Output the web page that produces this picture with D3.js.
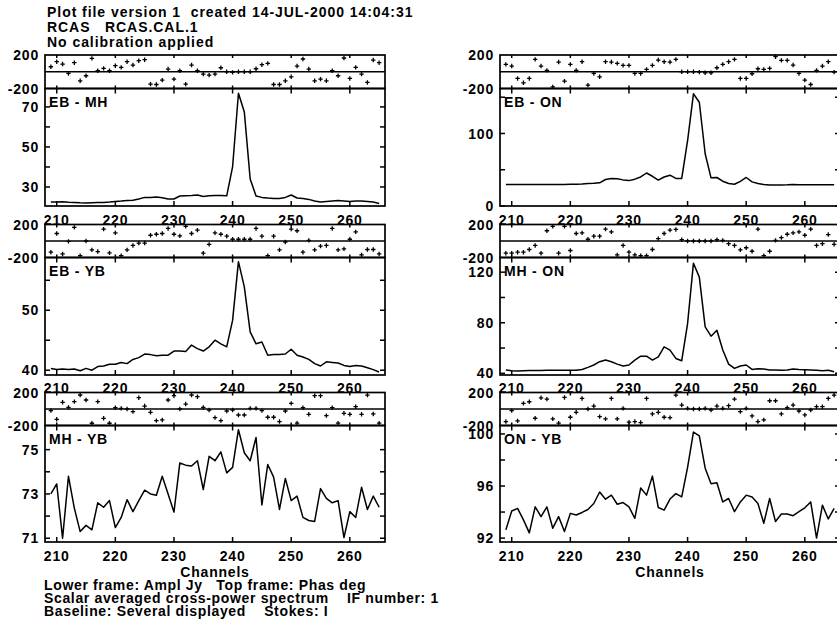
<!DOCTYPE html>
<html>
<head>
<meta charset="utf-8">
<script src="https://cdn.jsdelivr.net/npm/d3@7"></script>
<style>
    body { margin: 0; background: #fff; }
    svg text {
        font-family: "Liberation Sans", Arial, Helvetica, sans-serif;
        font-weight: bold;
        font-size: 14px;
        letter-spacing: 0.8px;
        fill: #000;
        white-space: pre;
    }
    svg text.head { letter-spacing: 0.95px; }
    svg text.foot { letter-spacing: 0.65px; }
</style>
</head>
<body>
<div id="chart"></div>
<script>
// channels 209..265
var channels = d3.range(209, 266);
var channelDomain = [208, 266];
var xTicks = [210, 220, 230, 240, 250, 260];
var phaseDomain = [-200, 200];
var phaseLabels = [200, -200];

// EB - MH
var ampEBMH = [22.5, 22.5, 22.6, 22.4, 22.3, 22.1, 22.0, 22.1, 22.2, 22.3,
    22.5, 22.8, 23.0, 23.3, 23.4, 24.0, 24.8, 24.8, 25.0, 24.6,
    24.0, 24.0, 25.5, 25.6, 25.7, 26.0, 25.2, 25.6, 25.8, 25.8,
    25.6, 40.0, 76.8, 67.5, 34.0, 25.5, 24.8, 24.5, 24.3, 24.3,
    24.8, 26.0, 24.5, 24.2, 23.8, 23.0, 22.5, 22.8, 23.0, 23.2,
    23.0, 22.8, 23.0, 23.0, 22.8, 22.5, 21.8];
var phsEBMH = [60, 120, 92, -20, 108, -108, -48, 160, 12, 40,
    12, 72, 52, 120, 80, 132, 144, -148, -152, -100,
    32, -88, 12, -148, 80, 12, -28, -40, -28, 48,
    0, -8, 0, 0, 0, 36, 84, 100, -152, -152,
    -108, -60, 68, 152, 32, -108, -88, -108, 12, -48,
    164, -80, 52, -28, -128, 140, 108];
var ampDomainEBMH = [20.5, 79.2];
var ampTicksEBMH = [30, 50, 70];
var ampMinorEBMH = [40, 60];

// EB - ON
var ampEBON = [29.6, 29.6, 29.6, 29.6, 29.6, 29.6, 29.6, 29.6, 29.7, 29.8,
    29.8, 29.9, 30.0, 30.4, 31.0, 31.4, 32.0, 36.5, 38.0, 37.6,
    36.0, 35.0, 37.0, 40.0, 45.5, 41.0, 35.6, 40.0, 42.5, 38.0,
    38.0, 90.0, 154.7, 143.0, 72.0, 38.8, 39.3, 34.2, 31.0, 30.0,
    34.0, 39.3, 33.3, 31.0, 29.7, 29.0, 28.9, 29.0, 29.2, 29.8,
    29.4, 29.2, 29.2, 29.2, 29.2, 29.2, 29.2];
var phsEBON = [88, 68, -80, -132, -80, 148, 68, 16, -180, 116,
    -112, 88, 16, 120, -160, -20, -60, 120, 116, 100,
    76, 76, -20, -20, 28, 76, 140, 120, 116, 148,
    0, 0, 0, -4, -12, -12, 48, 88, 120, 148,
    -80, -80, -24, 36, 28, 40, 180, 136, 136, 80,
    -20, -100, -152, 16, 68, 120, -4];
var ampDomainEBON = [0, 162];
var ampTicksEBON = [0, 100];
var ampMinorEBON = [50, 150];

// EB - YB
var ampEBYB = [40.3, 40.1, 40.2, 40.1, 40.2, 39.9, 40.3, 40.0, 40.6, 40.7,
    41.0, 41.0, 41.3, 41.1, 41.8, 42.1, 42.7, 42.6, 42.4, 42.5,
    42.5, 43.2, 43.2, 43.1, 44.2, 43.6, 43.2, 43.9, 45.0, 44.4,
    43.9, 48.3, 58.1, 53.9, 46.4, 44.4, 44.7, 42.5, 42.6, 42.6,
    42.7, 43.5, 42.5, 42.2, 41.8, 41.1, 40.7, 41.4, 41.3, 41.2,
    40.8, 40.6, 40.8, 40.7, 40.4, 40.1, 39.7];
var phsEBYB = [-136, 91, -157, -4, 165, -177, 0, -107, -128, 144,
    -144, 99, -177, -107, -54, -25, -25, 70, 82, 91,
    152, 82, 62, 178, 91, 132, -148, -41, 99, 82,
    58, 21, 21, 21, 21, 152, 58, -177, 58, -107,
    -12, 144, 124, -136, 8, -107, -62, -54, 152, -107,
    -95, 21, 111, -169, -103, -103, -157];
var ampDomainEBYB = [39.2, 58.8];
var ampTicksEBYB = [40, 50];
var ampMinorEBYB = [45, 55];

// MH - ON
var ampMHON = [42.6, 42.1, 41.8, 42.1, 42.3, 42.3, 42.3, 42.4, 42.4, 42.4,
    42.4, 42.4, 42.4, 43.1, 44.7, 46.6, 49.2, 50.5, 49.2, 47.3,
    45.8, 46.6, 50.5, 53.6, 53.6, 50.5, 53.1, 61.0, 58.4, 51.8,
    50.0, 79.4, 127.1, 116.1, 76.7, 69.4, 74.1, 58.4, 47.3, 43.9,
    45.8, 46.6, 43.1, 43.7, 43.4, 42.6, 42.6, 42.4, 42.6, 43.4,
    43.0, 42.8, 42.6, 42.4, 42.1, 42.4, 41.3];
var phsMHON = [-148, -148, -136, -136, -103, -54, -148, 124, 178, -148,
    178, -115, 91, 99, 21, 58, 58, 144, 111, -169,
    -54, -136, -169, -177, -177, -103, 29, 91, 132, 140,
    16, 0, 0, 0, 0, 0, 16, 8, -33, -54,
    -107, -82, -124, 144, -178, -124, 8, 41, 82, 99,
    111, 70, 144, -54, -33, 78, -40];
var ampDomainMHON = [38.7, 131.6];
var ampTicksMHON = [40, 80, 120];
var ampMinorMHON = [60, 100];

// MH - YB
var ampMHYB = [73.0, 73.45, 71.0, 73.8, 72.36, 71.3, 71.58, 71.38, 72.6, 72.4,
    72.7, 71.48, 71.94, 72.74, 72.2, 72.7, 73.17, 73.0, 72.94, 73.8,
    73.0, 72.18, 74.4, 74.3, 74.26, 74.5, 73.2, 74.7, 74.5, 74.9,
    73.95, 74.2, 75.9, 74.86, 74.5, 75.55, 72.5, 74.33, 73.76, 72.3,
    73.7, 72.7, 72.9, 71.94, 71.8, 71.76, 73.24, 72.8, 72.6, 72.7,
    71.03, 72.2, 71.94, 73.3, 72.3, 72.9, 72.4];
var phsMHYB = [-20, -125, 81, 20, 89, 170, 109, -173, 89, -113,
    -173, 16, 8, 0, -32, 137, 36, -40, -141, -133,
    109, 161, 0, 60, 170, 149, 20, -12, -105, -141,
    -24, -12, -73, -73, 8, 8, -20, -100, -100, -152,
    -24, 68, -172, 16, -64, 161, 161, -80, 16, -172,
    -52, -64, 28, -64, 168, -60, -172];
var ampDomainMHYB = [70.83, 76.09];
var ampTicksMHYB = [71, 73, 75];
var ampMinorMHYB = [72, 74];

// ON - YB
var ampONYB = [92.63, 94.08, 94.28, 93.4, 92.4, 94.4, 93.65, 94.4, 92.76, 93.65,
    92.5, 93.9, 93.77, 93.97, 94.2, 94.66, 95.54, 94.99, 95.3, 94.6,
    94.73, 94.4, 93.52, 95.85, 95.3, 96.76, 94.35, 94.15, 95.0, 95.42,
    95.16, 97.44, 100.15, 99.85, 97.37, 96.18, 96.25, 94.78, 95.04, 94.03,
    94.78, 95.3, 95.16, 94.66, 93.14, 95.04, 93.27, 93.85, 93.85, 93.72,
    94.03, 94.33, 94.78, 92.0, 94.53, 93.47, 94.28];
var phsONYB = [-152, -20, -144, 68, 88, -112, 136, 120, -120, -172,
    140, -100, -40, 128, 0, 36, -92, -120, 128, -120,
    8, -160, -152, -164, 128, -60, -40, -100, -104, 168,
    48, 8, 0, 0, 8, -12, 36, 8, 40, 120,
    -32, 8, -84, -152, -132, 100, 100, -60, 16, 48,
    -24, -72, -12, 28, 28, 128, 168];
var ampDomainONYB = [91.7, 100.65];
var ampTicksONYB = [92, 96, 100];
var ampMinorONYB = [94, 98];

var headerLines = ['Plot file version 1  created 14-JUL-2000 14:04:31',
    'RCAS   RCAS.CAL.1',
    'No calibration applied'];
var footerLines = ['Lower frame: Ampl Jy   Top frame: Phas deg',
    'Scalar averaged cross-power spectrum    IF number: 1',
    'Baseline: Several displayed    Stokes: I'];

// 布局
var colX = [[45, 385], [500, 840]];
var rowY = [
    {top: 55, mid: 88.5, bot: 206, lab: 225},
    {top: 224.5, mid: 257.5, bot: 375, lab: 392.5},
    {top: 392.5, mid: 425.5, bot: 542, lab: 561}
];

var panels = [
    {name: 'EB - MH', amp: ampEBMH, phs: phsEBMH, dom: ampDomainEBMH, ticks: ampTicksEBMH, minor: ampMinorEBMH, col: 0, row: 0},
    {name: 'EB - ON', amp: ampEBON, phs: phsEBON, dom: ampDomainEBON, ticks: ampTicksEBON, minor: ampMinorEBON, col: 1, row: 0},
    {name: 'EB - YB', amp: ampEBYB, phs: phsEBYB, dom: ampDomainEBYB, ticks: ampTicksEBYB, minor: ampMinorEBYB, col: 0, row: 1},
    {name: 'MH - ON', amp: ampMHON, phs: phsMHON, dom: ampDomainMHON, ticks: ampTicksMHON, minor: ampMinorMHON, col: 1, row: 1},
    {name: 'MH - YB', amp: ampMHYB, phs: phsMHYB, dom: ampDomainMHYB, ticks: ampTicksMHYB, minor: ampMinorMHYB, col: 0, row: 2},
    {name: 'ON - YB', amp: ampONYB, phs: phsONYB, dom: ampDomainONYB, ticks: ampTicksONYB, minor: ampMinorONYB, col: 1, row: 2}
];

var svg = d3.select('#chart').append('svg')
    .attr('width', 837)
    .attr('height', 630);

//标题
svg.append('g').selectAll('text')
    .data(headerLines)
    .enter().append('text')
    .attr('class', 'head')
    .attr('x', 47)
    .attr('y', function (d, i) { return 17 + i * 15; })
    .text(function (d) { return d; });

//底部说明
svg.append('g').selectAll('text')
    .data(footerLines)
    .enter().append('text')
    .attr('class', 'foot')
    .attr('x', 44)
    .attr('y', function (d, i) { return 589.5 + i * 13; })
    .text(function (d) { return d; });

function drawPanel(p) {
    var xr = colX[p.col];
    var r = rowY[p.row];
    var x = d3.scaleLinear().domain(channelDomain).range(xr);
    var yP = d3.scaleLinear().domain(phaseDomain).range([r.mid, r.top]);
    var yA = d3.scaleLinear().domain(p.dom).range([r.bot, r.mid]);
    var g = svg.append('g');

    //相位框 + 幅度框
    g.append('rect')
        .attr('x', xr[0]).attr('y', r.top)
        .attr('width', xr[1] - xr[0]).attr('height', r.mid - r.top)
        .attr('fill', 'none').attr('stroke', '#000').attr('stroke-width', 1.7);
    g.append('rect')
        .attr('x', xr[0]).attr('y', r.mid)
        .attr('width', xr[1] - xr[0]).attr('height', r.bot - r.mid)
        .attr('fill', 'none').attr('stroke', '#000').attr('stroke-width', 1.7);
    g.append('line')
        .attr('x1', xr[0]).attr('x2', xr[1])
        .attr('y1', yP(0)).attr('y2', yP(0))
        .attr('stroke', '#000').attr('stroke-width', 1.5);

    //x刻度
    var tk = g.append('g').attr('stroke', '#000').attr('stroke-width', 1.5);
    xTicks.forEach(function (t) {
        var tx = x(t);
        tk.append('line').attr('x1', tx).attr('x2', tx).attr('y1', r.top).attr('y2', r.top + 3);
        tk.append('line').attr('x1', tx).attr('x2', tx).attr('y1', r.mid - 3).attr('y2', r.mid + 5);
        tk.append('line').attr('x1', tx).attr('x2', tx).attr('y1', r.bot - 5).attr('y2', r.bot);
    });
    g.append('g').selectAll('text')
        .data(xTicks)
        .enter().append('text')
        .attr('x', function (d) { return x(d); })
        .attr('y', r.lab)
        .style('text-anchor', 'middle')
        .text(function (d) { return d; });

    //y刻度 (幅度)
    var yt = p.ticks.concat(p.minor);
    yt.forEach(function (t) {
        var ty = yA(t);
        tk.append('line').attr('x1', xr[0]).attr('x2', xr[0] + 5).attr('y1', ty).attr('y2', ty);
        tk.append('line').attr('x1', xr[1] - 5).attr('x2', xr[1]).attr('y1', ty).attr('y2', ty);
    });
    g.append('g').selectAll('text')
        .data(p.ticks)
        .enter().append('text')
        .attr('x', xr[0] - 6)
        .attr('y', function (d) { return yA(d); })
        .attr('dy', '0.36em')
        .style('text-anchor', 'end')
        .text(function (d) { return d; });
    g.append('g').selectAll('text')
        .data(phaseLabels)
        .enter().append('text')
        .attr('x', xr[0] - 6)
        .attr('y', function (d) { return yP(d); })
        .attr('dy', '0.36em')
        .style('text-anchor', 'end')
        .text(function (d) { return d; });

    //相位点 '+'
    g.append('g').selectAll('path')
        .data(p.phs)
        .enter().append('path')
        .attr('d', function (d, i) {
            var cx = x(channels[i]), cy = yP(d);
            return 'M' + (cx - 2.2) + ',' + cy + 'h4.4M' + cx + ',' + (cy - 2.2) + 'v4.4';
        })
        .attr('stroke', '#000')
        .attr('stroke-width', 1.3);

    //幅度曲线
    var line = d3.line()
        .x(function (d, i) { return x(channels[i]); })
        .y(function (d) { return yA(d); });
    g.append('path')
        .datum(p.amp)
        .attr('d', line)
        .attr('fill', 'none')
        .attr('stroke', '#000')
        .attr('stroke-width', 1.5)
        .attr('stroke-linejoin', 'round');

    //基线名称
    g.append('text')
        .attr('x', xr[0] + 4)
        .attr('y', r.mid + 18)
        .text(p.name);

    if (p.row === 2) {
        g.append('text')
            .attr('x', (xr[0] + xr[1]) / 2)
            .attr('y', 576.5)
            .style('text-anchor', 'middle')
            .text('Channels');
    }
}

panels.forEach(drawPanel);
</script>
</body>
</html>
